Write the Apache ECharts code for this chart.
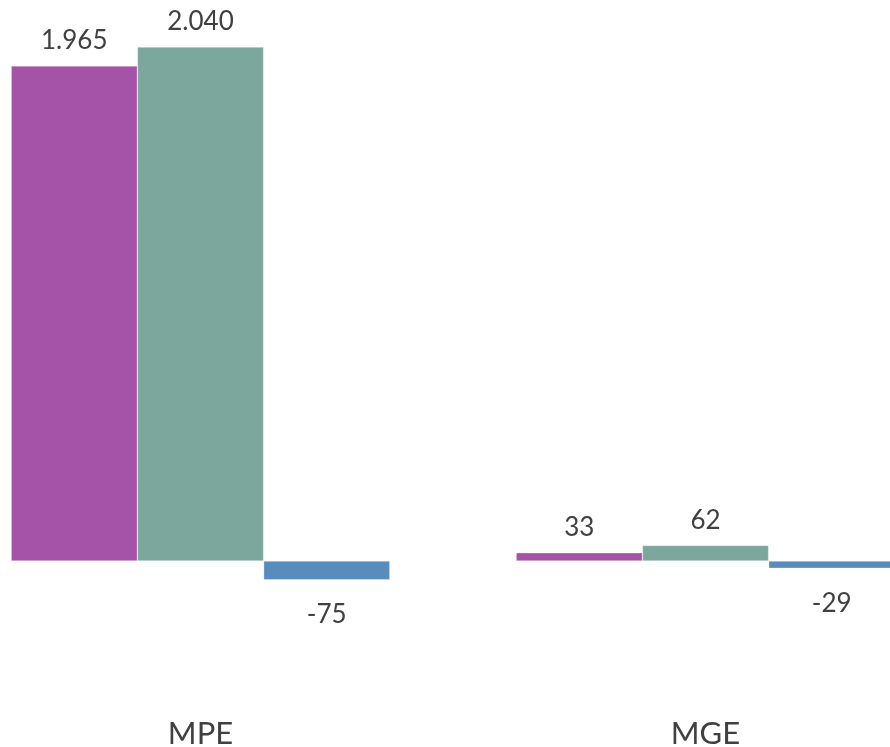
<!DOCTYPE html>
<html>
<head>
<meta charset="utf-8">
<script src="https://cdn.jsdelivr.net/npm/echarts@6/dist/echarts.min.js"></script>
<style>html,body{margin:0;padding:0;background:#fff;overflow:hidden;width:890px;height:747px}#c{width:1010px;height:747px;margin-left:-52px}</style>
</head>
<body>
<div id="c"></div>
<script>
const categories = ['MPE', 'MGE'];
const seriesA = [1965, 33];
const seriesB = [2040, 62];
const seriesC = [-75, -29];
const seriesNames = ['A', 'B', 'C'];
const colors = ['#A553A8', '#7BA79D', '#578CBC'];

function fmt(v) {
  const s = Math.abs(v).toString().replace(/\B(?=(\d{3})+(?!\d))/g, '.');
  return (v < 0 ? '-' : '') + s;
}
function items(arr) {
  return arr.map(v => v < 0
    ? { value: v, label: { position: 'bottom', distance: 22 } }
    : { value: v });
}
const font = 'Lato, "Open Sans", sans-serif';
const chart = echarts.init(document.getElementById('c'));
chart.setOption({
  animation: false,
  grid: { left: 0, right: 0, top: 6.7, height: 705.5, containLabel: false, outerBoundsMode: 'none' },
  xAxis: {
    type: 'category', data: categories,
    axisLine: { show: false, onZero: false }, axisTick: { show: false },
    axisLabel: { color: '#404040', fontSize: 31, fontFamily: font, margin: 6 }
  },
  yAxis: {
    type: 'value', min: -600, max: 2200, show: false, splitLine: { show: false }
  },
  series: [seriesA, seriesB, seriesC].map((d, i) => ({
    name: seriesNames[i], type: 'bar', data: items(d),
    barGap: 0, barCategoryGap: '25%',
    itemStyle: { color: colors[i], borderColor: 'rgba(255,255,255,0.5)', borderWidth: 0.6 },
    label: {
      show: true, position: 'top', distance: 12, color: '#404040', fontSize: 26, fontFamily: font,
      formatter: p => fmt(p.value)
    }
  }))
});
</script>
</body>
</html>
